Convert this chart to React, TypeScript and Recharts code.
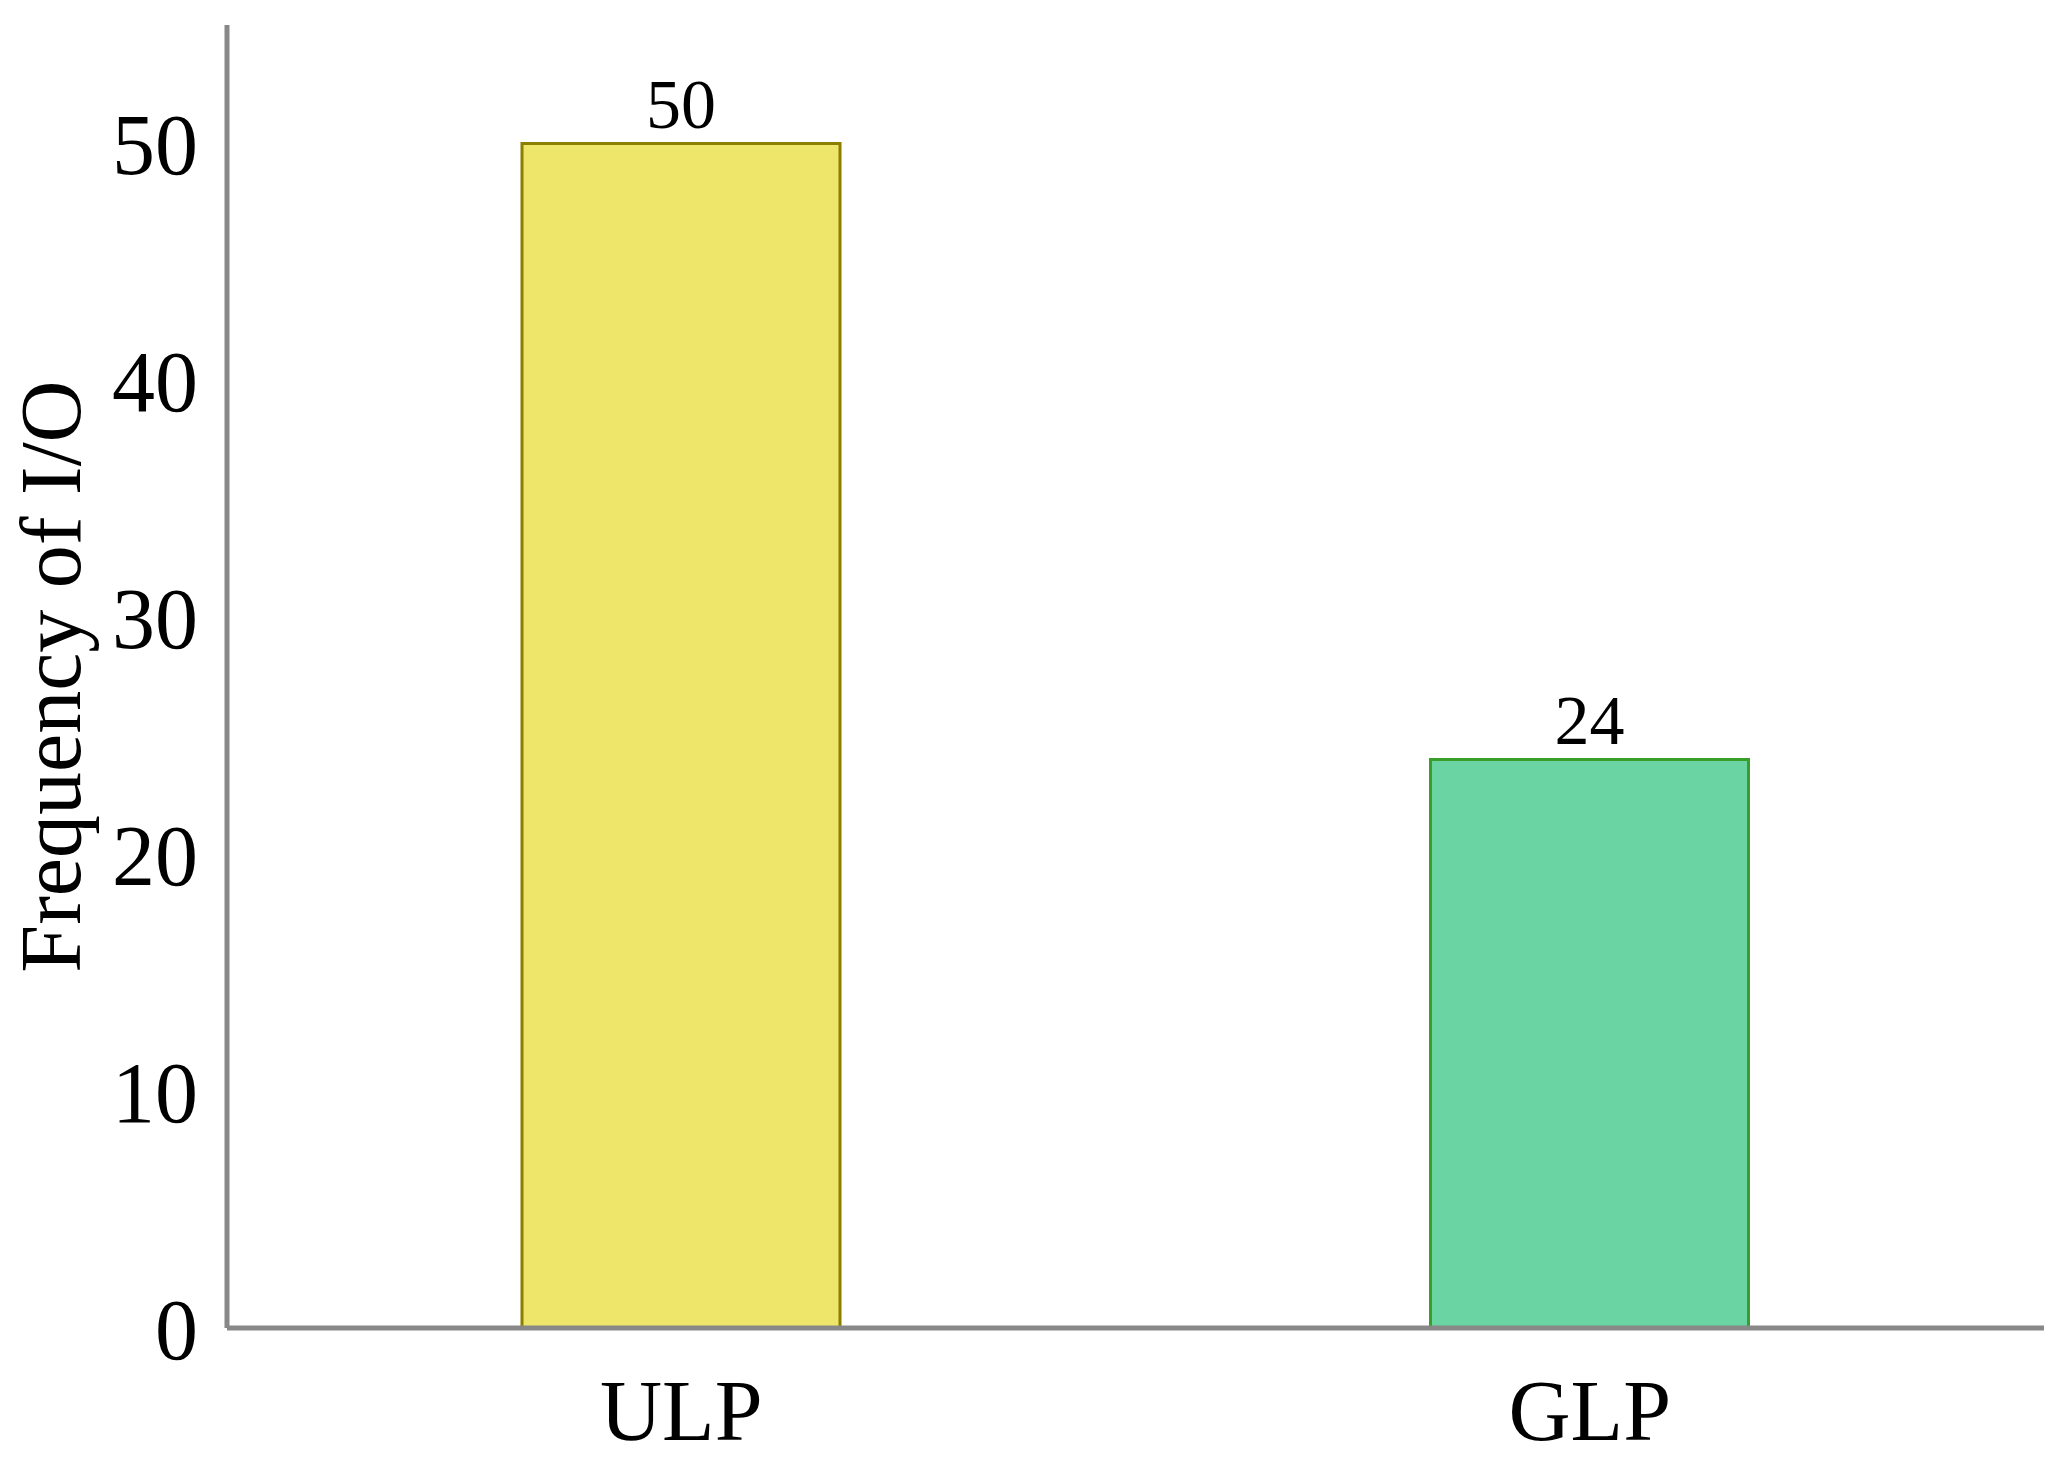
import { BarChart, Bar, XAxis, YAxis, Cell, LabelList } from 'recharts';

const categories = ['ULP', 'GLP'];
const frequencies = [50, 24];
const yTicks = [0, 10, 20, 30, 40, 50];
const fills = ['#EEE66B', '#6AD4A3'];
const strokes = ['#8C7F00', '#3A9E2A'];

const data = categories.map((name, i) => ({ name, value: frequencies[i] }));

const font = '"Liberation Serif", "Times New Roman", serif';

function YLabel(props: any) {
  const vb = props.viewBox || {};
  const x = vb.x + 80;
  const y = vb.y + vb.height / 2;
  return (
    <text
      x={x}
      y={y}
      transform={`rotate(-90, ${x}, ${y})`}
      textAnchor="middle"
      fontFamily={font}
      fontSize={86}
      fill="#000"
    >
      Frequency of I/O
    </text>
  );
}

export default function App() {
  return (
    <div style={{ position: 'absolute', left: 0, top: 0, background: '#fff' }}>
      <BarChart
        width={2070}
        height={1462}
        data={data}
        margin={{ top: 25, right: 26, bottom: 0, left: 0 }}
      >
        <XAxis
          dataKey="name"
          height={134}
          axisLine={{ stroke: '#888888', strokeWidth: 5 }}
          tickLine={false}
          tickSize={0}
          tickMargin={51}
          tick={{ fontFamily: font, fontSize: 86, fill: '#000' }}
        />
        <YAxis
          width={227}
          domain={[0, 55]}
          ticks={yTicks}
          allowDataOverflow
          axisLine={{ stroke: '#888888', strokeWidth: 5 }}
          tickLine={false}
          tickSize={0}
          tickMargin={29}
          tick={{ fontFamily: font, fontSize: 86, fill: '#000' }}
          label={<YLabel />}
        />
        <Bar dataKey="value" barSize={318} strokeWidth={3} isAnimationActive={false}>
          {data.map((d, i) => (
            <Cell key={d.name} fill={fills[i]} stroke={strokes[i]} />
          ))}
          <LabelList
            dataKey="value"
            position="top"
            offset={15}
            style={{ fontFamily: font, fontSize: 70, fill: '#000' }}
          />
        </Bar>
      </BarChart>
    </div>
  );
}
